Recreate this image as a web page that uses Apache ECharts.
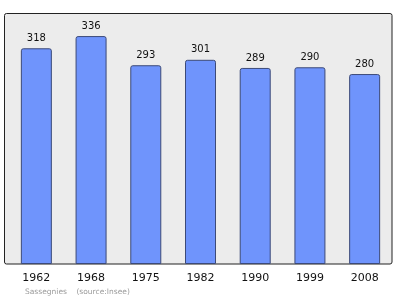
<!DOCTYPE html>
<html><head><meta charset="utf-8">
<script src="https://cdn.jsdelivr.net/npm/echarts@6/dist/echarts.min.js"></script>
<style>html,body{margin:0;padding:0;background:#fff}#c{width:400px;height:299px}</style>
</head><body><div id="c"></div>
<script>
var years = ['1962','1968','1975','1982','1990','1999','2008'];
var population = [318,336,293,301,289,290,280];
var footerText = 'Sassegnies    (source:Insee)';

var chart = echarts.init(document.getElementById('c'), null, {renderer:'canvas'});
chart.setOption({
  animation:false,
  backgroundColor:'#ffffff',
  graphic:[
    {type:'rect', z:-1, shape:{x:4.5,y:13.5,width:387.5,height:250.5,r:2},
     style:{fill:'#ececec', stroke:'#222', lineWidth:1}},
    {type:'text', left:25, top:288,
     style:{text:footerText, fill:'#9a9a9a', font:'7.5px "DejaVu Sans"'}}
  ],
  grid:{left:9, right:8, top:13, bottom:35},
  xAxis:{type:'category', data:years,
    axisLine:{show:false}, axisTick:{show:false},
    axisLabel:{color:'#111', fontSize:11, fontFamily:'DejaVu Sans', margin:9}},
  yAxis:{type:'value', min:0, max:370, show:false, splitLine:{show:false}},
  series:[{type:'bar', data:population, barWidth:31,
    itemStyle:{color:'#6f94fc', borderColor:'#3c4a78', borderWidth:1, borderRadius:[2,2,0,0]},
    label:{show:true, position:'top', distance:5, color:'#111', fontSize:10, fontFamily:'DejaVu Sans'}}]
});
</script></body></html>
